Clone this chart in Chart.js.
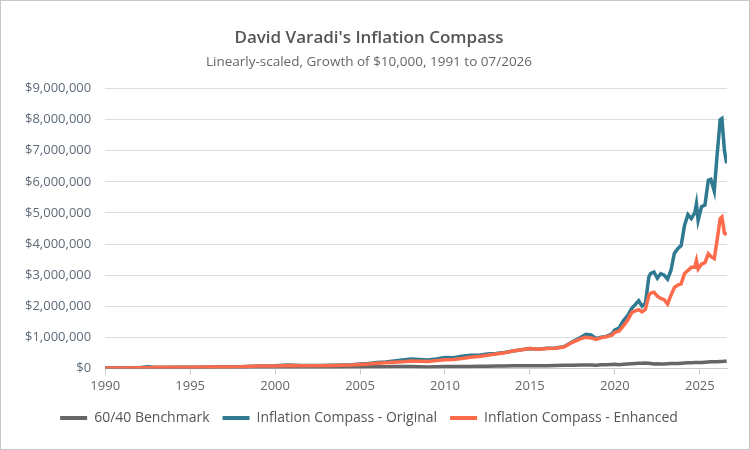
<!DOCTYPE html>
<html>
<head>
<meta charset="utf-8">
<script src="https://cdn.jsdelivr.net/npm/chart.js@4"></script>
<style>
  html, body { margin: 0; padding: 0; background: #fff; }
  #wrap { width: 748px; height: 448px; border: 1px solid #c8c8c8; position: relative; }
</style>
</head>
<body>
<div id="wrap"><canvas id="compassChart" width="748" height="448"></canvas></div>
<script>
// dates as decimal years
const dates = [1990, 1991, 1992, 1992.5, 1993, 1994, 1995, 1996, 1997, 1998, 1999, 2000, 2000.8, 2001.5, 2002.5, 2003.5, 2004.5,
  2005, 2005.5, 2006, 2006.5, 2007, 2007.5, 2008, 2008.5, 2009, 2009.5, 2010, 2010.5, 2011, 2011.5, 2012, 2012.5,
  2013, 2013.5, 2014, 2014.5, 2015, 2015.5, 2016, 2016.5, 2017, 2017.5, 2018, 2018.3, 2018.6, 2018.9, 2019.2, 2019.5,
  2019.8, 2020.0, 2020.25, 2020.5, 2020.75, 2021.0, 2021.2, 2021.4, 2021.6, 2021.8, 2022.0, 2022.1, 2022.3, 2022.5,
  2022.7, 2022.9, 2023.1, 2023.3, 2023.5, 2023.7, 2023.9, 2024.1, 2024.3, 2024.5, 2024.7, 2024.8, 2024.9, 2025.1,
  2025.3, 2025.5, 2025.65, 2025.85, 2026.0, 2026.2, 2026.3, 2026.45, 2026.58];

// values in thousands of dollars
const benchmark = [10, 11, 13, 14, 16, 17, 19, 23, 27, 32, 36, 38, 38, 36, 33, 40, 45,
  48, 50, 54, 56, 60, 62, 58, 52, 44, 52, 58, 58, 64, 64, 66, 70,
  76, 79, 84, 87, 89, 87, 88, 92, 98, 104, 110, 109, 112, 104, 114, 120,
  125, 130, 118, 132, 140, 150, 155, 162, 166, 170, 165, 158, 145, 148,
  138, 145, 150, 155, 160, 154, 165, 172, 178, 185, 190, 192, 189, 192,
  198, 205, 210, 212, 216, 222, 224, 226, 228];

const original = [10, 13, 22, 55, 30, 33, 38, 42, 50, 55, 75, 85, 110, 95, 90, 100, 120,
  140, 160, 190, 210, 240, 270, 300, 290, 270, 300, 350, 340, 390, 420, 420, 460,
  480, 510, 560, 600, 640, 620, 650, 660, 700, 860, 1000, 1100, 1080, 960, 1000, 1030,
  1100, 1240, 1300, 1530, 1700, 1930, 2050, 2180, 2000, 2100, 2950, 3050, 3100, 2900,
  3050, 3000, 2870, 3150, 3700, 3850, 3950, 4600, 4950, 4820, 5000, 5300, 4760, 5200,
  5250, 6050, 6080, 5700, 6750, 8000, 8040, 7000, 6600];

const enhanced = [10, 12, 18, 22, 35, 37, 40, 43, 48, 55, 75, 80, 90, 85, 85, 95, 110,
  125, 145, 165, 180, 200, 215, 240, 230, 220, 250, 280, 290, 320, 360, 380, 420,
  460, 500, 560, 600, 640, 620, 640, 650, 690, 840, 960, 1000, 980, 930, 990, 1020,
  1060, 1160, 1200, 1370, 1550, 1800, 1850, 1890, 1820, 1900, 2350, 2420, 2450, 2320,
  2250, 2210, 2070, 2350, 2600, 2680, 2720, 3050, 3150, 3250, 3250, 3470, 3200, 3350,
  3400, 3690, 3600, 3530, 4060, 4820, 4870, 4350, 4300];

const seriesNames = ['60/40 Benchmark', 'Inflation Compass - Original', 'Inflation Compass - Enhanced'];
const seriesColors = ['#666666', '#2f7a91', '#fd6b4b'];
const yTicks = [0, 1000000, 2000000, 3000000, 4000000, 5000000, 6000000, 7000000, 8000000, 9000000];
const xTicks = [1990, 1995, 2000, 2005, 2010, 2015, 2020, 2025];

function toPoints(vals) {
  return dates.map((d, i) => ({ x: d, y: vals[i] * 1000 }));
}

const allSeries = [benchmark, original, enhanced];
const drawOrder = [2, 1, 0]; // enhanced on top

const ctx = document.getElementById('compassChart').getContext('2d');
new Chart(ctx, {
  type: 'line',
  data: {
    datasets: allSeries.map((vals, i) => ({
      label: seriesNames[i],
      data: toPoints(vals),
      borderColor: seriesColors[i],
      backgroundColor: seriesColors[i],
      borderWidth: 3.5,
      pointRadius: 0,
      tension: 0,
      order: drawOrder[i]
    }))
  },
  options: {
    responsive: false,
    animation: false,
    layout: { padding: { left: 10, right: 22, top: 20, bottom: 14 } },
    plugins: {
      title: {
        display: true,
        text: "David Varadi's Inflation Compass",
        color: '#555555',
        font: { family: 'Open Sans', size: 17, weight: '600' },
        padding: { top: 7, bottom: 6 }
      },
      subtitle: {
        display: true,
        text: 'Linearly-scaled, Growth of $10,000, 1991 to 07/2026',
        color: '#666666',
        font: { family: 'Open Sans', size: 13.5 },
        padding: { top: 0, bottom: 18 }
      },
      legend: {
        position: 'bottom',
        labels: {
          color: '#555555',
          font: { family: 'Open Sans', size: 14 },
          boxWidth: 27,
          boxHeight: 4,
          padding: 13,
          sort: (a, b) => a.datasetIndex - b.datasetIndex,
          generateLabels: (chart) => Chart.defaults.plugins.legend.labels.generateLabels(chart)
            .map(l => Object.assign(l, { lineWidth: 0 }))
        }
      },
      tooltip: { enabled: false }
    },
    scales: {
      x: {
        type: 'linear',
        min: 1990,
        max: 2026.6,
        afterBuildTicks: (axis) => { axis.ticks = xTicks.map(v => ({ value: v })); },
        ticks: {
          color: '#666666',
          font: { family: 'Open Sans', size: 13 },
          maxRotation: 0,
          padding: 4,
          callback: (v) => String(v)
        },
        grid: { drawOnChartArea: false, drawTicks: true, tickLength: 6, color: '#cccccc' },
        border: { color: '#cccccc' }
      },
      y: {
        min: 0,
        max: 9000000,
        afterBuildTicks: (axis) => { axis.ticks = yTicks.map(v => ({ value: v })); },
        ticks: {
          color: '#5e6b78',
          font: { family: 'Open Sans', size: 13 },
          padding: 14,
          callback: (v) => '$' + v.toLocaleString('en-US')
        },
        grid: { color: '#dddddd', drawTicks: false },
        border: { display: false }
      }
    }
  }
});
</script>
</body>
</html>
